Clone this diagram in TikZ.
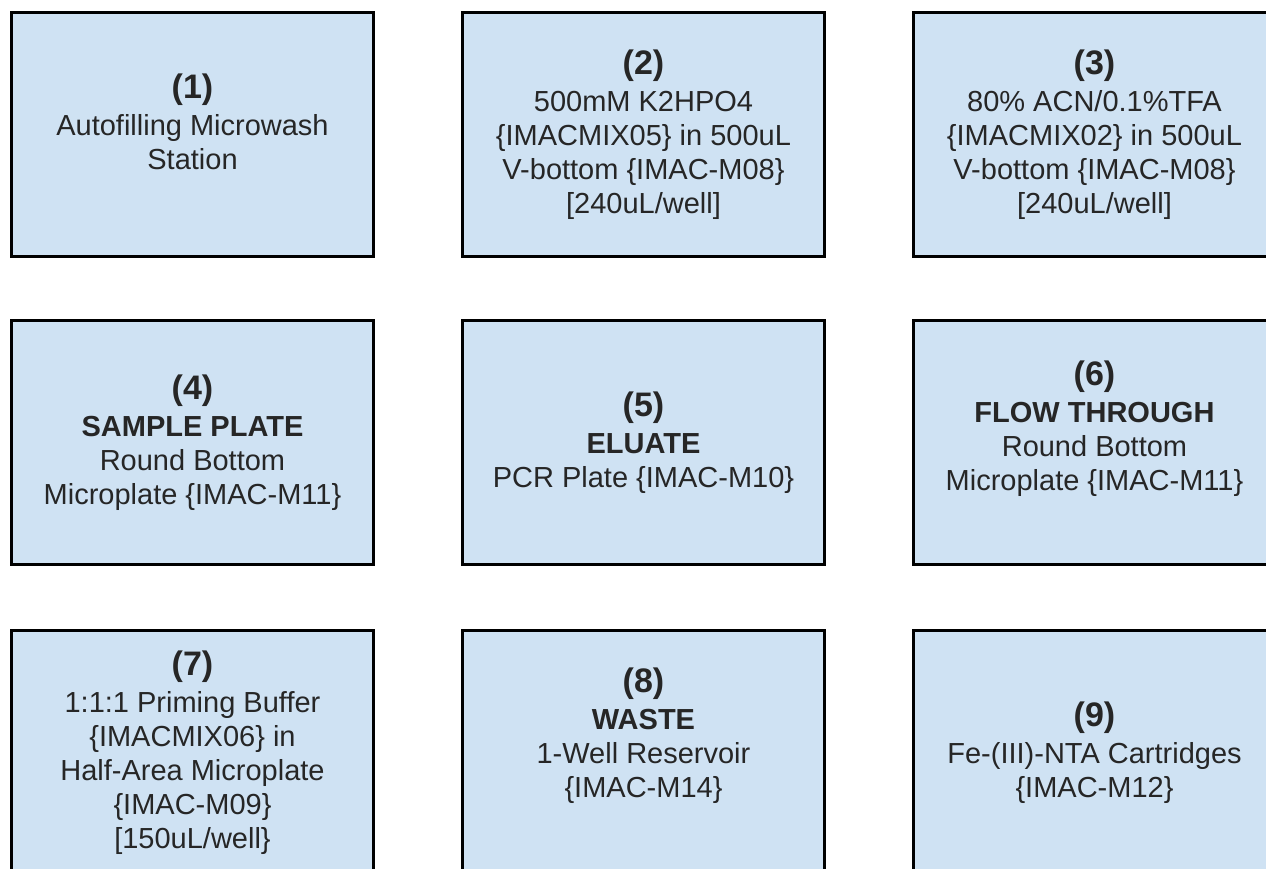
\documentclass[tikz,border=0pt]{standalone}
\usepackage{fontspec}
\setmainfont{Liberation Sans}
\usepackage{tikz}
\usepackage{xcolor}

\definecolor{platefill}{HTML}{CFE2F3}
\newcommand{\platenum}[1]{{\fontsize{17}{18}\selectfont\bfseries (#1)}}

\begin{document}
\begin{tikzpicture}[x=0.5pt,y=-0.5pt]
	\tikzstyle{plate} = [draw=black, fill=platefill, line width=1.5pt, rectangle, minimum width=181pt, minimum height=122pt, inner sep=0pt]
	\tikzstyle{deck} = [align=center, text=black!85, font=\fontsize{14.5}{17}\selectfont, inner sep=0pt]
	\useasboundingbox (0,0) rectangle (1266,869);
	\clip (0,0) rectangle (1266,869);
		\node[plate] (p1) at (192.5,134.5) {};
		\node[plate] (p2) at (643.5,134.5) {};
		\node[plate] (p3) at (1094.5,134.5) {};
		\node[plate] (p4) at (192.5,442.5) {};
		\node[plate] (p5) at (643.5,442.5) {};
		\node[plate] (p6) at (1094.5,442.5) {};
		\node[plate] (p7) at (192.5,752.5) {};
		\node[plate] (p8) at (643.5,752.5) {};
		\node[plate] (p9) at (1094.5,752.5) {};
	% labels of the deck positions
		\node[deck, yshift=6.5pt] (t1) at (p1.center) {\platenum{1}\\[1.5pt] Autofilling Microwash\\ Station};
		\node[deck] (t2) at (p2.center) {\platenum{2}\\[1.5pt] 500mM K2HPO4\\ \{IMACMIX05\} in 500uL\\ V-bottom \{IMAC-M08\}\\ {[240uL/well]}};
		\node[deck] (t3) at (p3.center) {\platenum{3}\\[1.5pt] 80\% ACN/0.1\%TFA\\ \{IMACMIX02\} in 500uL\\ V-bottom \{IMAC-M08\}\\ {[240uL/well]}};
		\node[deck] (t4) at (p4.center) {\platenum{4}\\[1.5pt] \textbf{SAMPLE PLATE}\\ Round Bottom\\ Microplate \{IMAC-M11\}};
		\node[deck] (t5) at (p5.center) {\platenum{5}\\[1.5pt] \textbf{ELUATE}\\ PCR Plate \{IMAC-M10\}};
		\node[deck, yshift=7pt] (t6) at (p6.center) {\platenum{6}\\[1.5pt] \textbf{FLOW THROUGH}\\ Round Bottom\\ Microplate \{IMAC-M11\}};
		\node[deck] (t7) at (p7.center) {\platenum{7}\\[1.5pt] 1:1:1 Priming Buffer\\ \{IMACMIX06\} in\\ Half-Area Microplate\\ \{IMAC-M09\}\\ {[150uL/well\}}};
		\node[deck, yshift=8.5pt] (t8) at (p8.center) {\platenum{8}\\[1.5pt] \textbf{WASTE}\\ 1-Well Reservoir\\ \{IMAC-M14\}};
		\node[deck] (t9) at (p9.center) {\platenum{9}\\[1.5pt] Fe-(III)-NTA Cartridges\\ \{IMAC-M12\}};
	\end{tikzpicture}
\end{document}
